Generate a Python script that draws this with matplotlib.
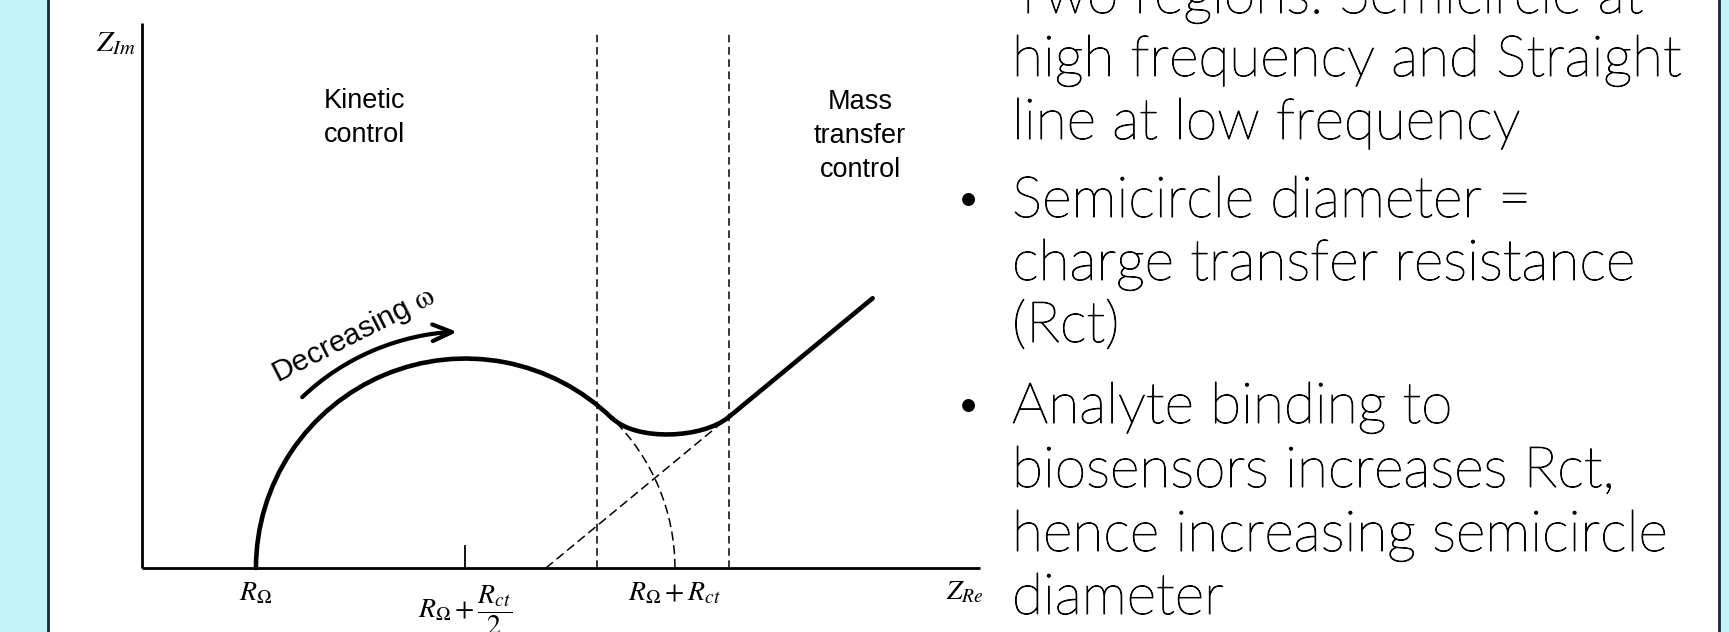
import numpy as np
import matplotlib.pyplot as plt
import matplotlib.patheffects as pe
from matplotlib.patches import Arc, Rectangle, FancyArrowPatch, PathPatch
from matplotlib.lines import Line2D
from matplotlib.path import Path
from matplotlib.transforms import Affine2D

plt.rcParams['mathtext.fontset'] = 'stix'
plt.rcParams['font.family'] = ['Liberation Sans', 'DejaVu Sans']

# Nyquist sketch, impedance in arbitrary units
R_omega = 13.6
R_ct = 50.0
x_axis_len = 100.0
y_axis_len = 65.0
split_angle = 45.6                    # solid curve leaves the semicircle here (deg)
bend_x = [56.1, 59.0, 66.9, 70.0]     # bezier control points of the dip
bend_y = [17.9, 15.1, 15.45, 18.0]
warburg_x = [48.2, 70.0, 87.2]        # dashed start, join, end of solid line
warburg_y = [0.0, 18.0, 32.2]
boundary_x = [54.3, 70.0]             # kinetic / mass transfer limits
boundary_top = 64.0
arrow_r = 28.2
arrow_ang = [133.7, 92.0]

# slide text
bullet_lines = ["Two regions: Semicircle at", "high frequency and Straight",
                "line at low frequency", "Semicircle diameter =",
                "charge transfer resistance", "(Rct)", "Analyte binding to",
                "biosensors increases Rct,", "hence increasing semicircle",
                "diameter"]
bullet_start = [False, False, False, True, False, False, True, False, False, False]
baseline_px = [13, 76, 139, 217, 280, 342, 423, 487, 551, 614]

W, H = 1729, 632
fig = plt.figure(figsize=(W / 100, H / 100), dpi=100)
fig.patch.set_facecolor('white')

cyan = '#c4f3f9'
navy = '#1b2440'
fig.add_artist(Rectangle((0, 0), 47 / W, 1, transform=fig.transFigure, color=cyan, zorder=0))
fig.add_artist(Rectangle((1720 / W, 0), 9 / W, 1, transform=fig.transFigure, color=cyan, zorder=0))
fig.add_artist(Line2D([48 / W, 48 / W], [0, 1], transform=fig.transFigure, color=navy, lw=2))
fig.add_artist(Line2D([1719 / W, 1719 / W], [0, 1], transform=fig.transFigure, color=navy, lw=2))

ax = fig.add_axes([0, 0, 1, 1])
ax.set_xlim(-16.95, 189.4)
ax.set_ylim(-7.64, 67.8)
ax.axis('off')
ax.patch.set_visible(False)

# axes of the diagram
ax.plot([0, 0], [0, y_axis_len], color='black', lw=2.0, solid_capstyle='butt')
ax.plot([0, x_axis_len], [0, 0], color='black', lw=2.0, solid_capstyle='butt')
mid = R_omega + R_ct / 2
ax.plot([mid, mid], [0, 2.6], color='black', lw=1.3)

# boundaries
for bx in boundary_x:
    ax.plot([bx, bx], [0, boundary_top], color='black', lw=1.1, ls=(0, (5, 3)))

# semicircle, solid then dashed
ax.add_patch(Arc((mid, 0), R_ct, R_ct, theta1=split_angle, theta2=180,
                 color='black', lw=3.3, capstyle='round'))
ax.add_patch(Arc((mid, 0), R_ct, R_ct, theta1=0, theta2=split_angle,
                 color='black', lw=1.1, ls=(0, (6, 3))))

# dip between the two regions
bend = Path(list(zip(bend_x, bend_y)), [Path.MOVETO, Path.CURVE4, Path.CURVE4, Path.CURVE4])
ax.add_patch(PathPatch(bend, fill=False, color='black', lw=3.3, capstyle='round'))

# Warburg line
ax.plot(warburg_x[:2], warburg_y[:2], color='black', lw=1.1, ls=(0, (6, 3)))
ax.plot(warburg_x[1:], warburg_y[1:], color='black', lw=3.3, solid_capstyle='round')

# Decreasing omega arrow
arc = Path.arc(arrow_ang[1], arrow_ang[0])
arc = Path(arc.vertices[::-1], arc.codes)
arc = Affine2D().scale(arrow_r).translate(mid, 0).transform_path(arc)
ax.add_patch(FancyArrowPatch(path=arc, arrowstyle='->,head_length=0.7,head_width=0.3',
                             mutation_scale=20, color='black', lw=3, capstyle='round'))
ax.text(25.2, 27.8, r'Decreasing $\mathrm{\omega}$', fontsize=21.5, rotation=27,
        rotation_mode='anchor', ha='center', va='center')

# region labels
ax.text(26.5, 53.7, 'Kinetic\ncontrol', fontsize=19.5, ha='center', va='center', linespacing=1.4)
ax.text(85.7, 51.6, 'Mass\ntransfer\ncontrol', fontsize=19.5, ha='center', va='center', linespacing=1.4)

# axis labels
ax.text(-3.1, 62.6, r'$Z_{Im}$', fontsize=21, ha='center', va='center')
ax.text(98.2, -2.9, r'$Z_{Re}$', fontsize=20, ha='center', va='center')
ax.text(R_omega, -3.0, r'$R_\Omega$', fontsize=20, ha='center', va='center')
ax.text(R_omega + R_ct, -3.0, r'$R_\Omega + R_{ct}$', fontsize=20, ha='center', va='center')
ax.text(mid, -5.1, r'$R_\Omega + \dfrac{R_{ct}}{2}$', fontsize=20, ha='center', va='center')

# bullet text on the right
thicken = [pe.withStroke(linewidth=0.7, foreground='black')]
for txt, bul, by in zip(bullet_lines, bullet_start, baseline_px):
    fig.text(1012 / W, 1 - by / H, txt, fontsize=41, family='Lato', weight='light',
             ha='left', va='baseline', color='black', path_effects=thicken)
    if bul:
        fig.text(952 / W, 1 - by / H, '\u2022', fontsize=41, family='Lato', weight='light',
                 ha='left', va='baseline', color='black')

fig.savefig('out.png', dpi=100)
